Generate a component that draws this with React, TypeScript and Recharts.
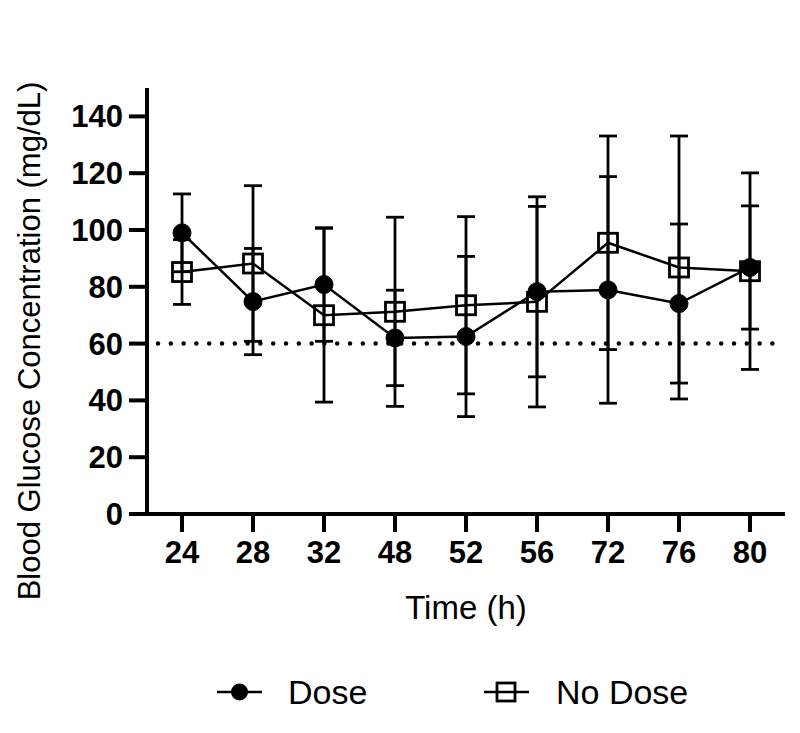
import React from 'react';
import { LineChart, Line, XAxis, YAxis, ReferenceLine, ErrorBar } from 'recharts';

const times = ['24', '28', '32', '48', '52', '56', '72', '76', '80'];
const dose = [99, 74.8, 80.8, 62, 62.5, 78.3, 78.9, 74.1, 86.8];
const doseErr = [13.7, 18.7, 20, 16.8, 28.2, 30, 39.9, 28, 21.7];
const noDose = [85.2, 88.2, 70, 71.2, 73.5, 74.7, 95.5, 86.8, 85.5];
const noDoseErr = [11.4, 27.4, 30.6, 33.3, 31.2, 37, 37.6, 46.3, 34.6];
const yTicks = [0, 20, 40, 60, 80, 100, 120, 140];
const threshold = 60;

const data = times.map((t, i) => ({
  time: t,
  dose: dose[i],
  doseErr: doseErr[i],
  noDose: noDose[i],
  noDoseErr: noDoseErr[i],
}));

const FONT = '"Liberation Sans", Arial, sans-serif';

const SquareDot = (p: any) => {
  const s = 19;
  return (
    <rect
      key={`sq-${p.index}`}
      x={p.cx - s / 2}
      y={p.cy - s / 2}
      width={s}
      height={s}
      fill="none"
      stroke="#000"
      strokeWidth={2.8}
    />
  );
};

export default function App() {
  return (
    <div style={{ position: 'relative', width: 792, height: 725, fontFamily: FONT }}>
      <LineChart
        width={792}
        height={640}
        data={data}
        margin={{ top: 80, right: 15, bottom: 0, left: 39 }}
        style={{ fontFamily: FONT }}
      >
        <XAxis
          dataKey="time"
          type="category"
          interval={0}
          height={134}
          padding={{ left: 35, right: 35 }}
          tickSize={18}
          tickMargin={9}
          axisLine={{ stroke: '#000', strokeWidth: 4 }}
          tickLine={{ stroke: '#000', strokeWidth: 4 }}
          tick={{ fill: '#000', fontSize: 31, fontWeight: 700, fontFamily: FONT }}
          label={() => (
            <text x={458} y={611} textAnchor="middle" fontSize={33} fill="#000" fontFamily={FONT}>
              Time (h)
            </text>
          )}
        />
        <YAxis
          width={100}
          type="number"
          domain={[0, 150]}
          ticks={yTicks}
          interval={0}
          tickSize={18}
          tickMargin={6}
          axisLine={{ stroke: '#000', strokeWidth: 4 }}
          tickLine={{ stroke: '#000', strokeWidth: 4 }}
          tick={{ fill: '#000', fontSize: 31, fontWeight: 700, fontFamily: FONT }}
          label={() => (
            <text
              x={32}
              y={333}
              transform="rotate(-90 32 333)"
              textAnchor="middle"
              fontSize={31}
              fill="#000"
              fontFamily={FONT}
            >
              Blood Glucose Concentration (mg/dL)
            </text>
          )}
        />
        <ReferenceLine
          y={threshold}
          stroke="#000"
          strokeWidth={4.5}
          strokeDasharray="0 12.8"
          strokeLinecap="round"
          strokeDashoffset={1.8}
        />
        <Line
          dataKey="dose"
          stroke="#000"
          strokeWidth={2.5}
          dot={{ r: 9, fill: '#000', stroke: '#000', strokeWidth: 1 }}
          activeDot={false}
          isAnimationActive={false}
        >
          <ErrorBar dataKey="doseErr" width={9} stroke="#000" strokeWidth={2.8} direction="y" />
        </Line>
        <Line
          dataKey="noDose"
          stroke="#000"
          strokeWidth={2.5}
          dot={SquareDot}
          activeDot={false}
          isAnimationActive={false}
        >
          <ErrorBar dataKey="noDoseErr" width={9} stroke="#000" strokeWidth={2.8} direction="y" />
        </Line>
      </LineChart>
      <svg
        width={792}
        height={85}
        style={{ position: 'absolute', left: 0, top: 640 }}
      >
        <g transform="translate(0 44)">
          <line x1={209} x2={254} y1={0} y2={0} stroke="#000" strokeWidth={2.5} />
          <circle cx={231.5} cy={0} r={8.5} fill="#000" />
          <text x={280} y={12} fontSize={34} fill="#000" fontFamily={FONT}>
            Dose
          </text>
          <line x1={476} x2={521} y1={0} y2={0} stroke="#000" strokeWidth={2.5} />
          <rect x={489} y={-9} width={18} height={18} fill="none" stroke="#000" strokeWidth={2.8} />
          <text x={548} y={12} fontSize={34} fill="#000" fontFamily={FONT}>
            No Dose
          </text>
        </g>
      </svg>
    </div>
  );
}
